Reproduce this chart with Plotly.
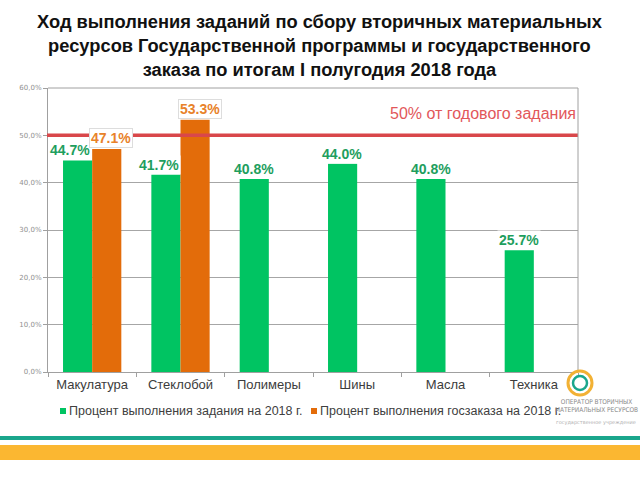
import plotly.graph_objects as go

categories = ["Макулатура", "Стеклобой", "Полимеры", "Шины", "Масла", "Техника"]
task_pct = [44.7, 41.7, 40.8, 44.0, 40.8, 25.7]
order_pct = [47.1, 53.3, None, None, None, None]
target_pct = 50.0
y_ticks = [0, 10, 20, 30, 40, 50, 60]
y_tick_labels = ["0,0%", "10,0%", "20,0%", "30,0%", "40,0%", "50,0%", "60,0%"]
series_names = ["Процент выполнения задания на 2018 г.", "Процент выполнения госзаказа на 2018 г."]

GREEN = "#00C462"
ORANGE = "#E36C0A"

W, H = 640, 480
ML, MR, MT, MB = 48, 62, 88, 108

fig = go.Figure()
fig.add_trace(go.Bar(x=categories, y=task_pct, name=series_names[0], marker_color=GREEN,
                     marker_line_width=0))
fig.add_trace(go.Bar(x=categories, y=order_pct, name=series_names[1], marker_color=ORANGE,
                     marker_line_width=0))

h_plot = H - MT - MB
w_plot = W - ML - MR
def py(ypix):
    return (H - MB - ypix) / h_plot
def px(xpix):
    return (xpix - ML) / w_plot

# 50% line
fig.add_shape(type="line", xref="paper", yref="y", x0=px(47), x1=1.0, y0=target_pct, y1=target_pct,
              line=dict(color="#D9474A", width=3.5), layer="above")

annotations = []
for i, v in enumerate(task_pct):
    shift = -22 if order_pct[i] is not None else -15
    annotations.append(dict(x=i, xshift=shift, y=v, xref="x", yref="y", yanchor="bottom", yshift=0,
                            text=f"<b>{v:.1f}%</b>", showarrow=False, bgcolor="white",
                            borderpad=1,
                            font=dict(color="#1E9E5E", size=14, family="Liberation Sans")))
for i, v in enumerate(order_pct):
    if v is not None:
        annotations.append(dict(x=i, xshift=19, y=v, xref="x", yref="y", yanchor="bottom", yshift=1,
                                text=f"<b>{v:.1f}%</b>", showarrow=False, bgcolor="white",
                                bordercolor="#DDDDDD", borderwidth=1, borderpad=1,
                                font=dict(color="#E8822A", size=14, family="Liberation Sans")))
annotations.append(dict(x=1.0, y=py(113), xref="paper", yref="paper", xanchor="right", yanchor="middle",
                        text="50% от годового задания", showarrow=False,
                        font=dict(color="#E2575A", size=16, family="Liberation Sans")))
# title
annotations.append(dict(x=px(320), y=py(9), xref="paper", yref="paper", xanchor="center", yanchor="top",
                        text="<b>Ход выполнения заданий по сбору вторичных материальных<br>ресурсов Государственной программы и государственного<br>заказа по итогам I полугодия 2018 года</b>",
                        showarrow=False,
                        font=dict(size=18.3, color="#111111", family="Liberation Sans")))
# manual legend
leg_y = 411
leg_items = [(68, GREEN, series_names[0]), (319, ORANGE, series_names[1])]
for x0, col, name in leg_items:
    fig.add_shape(type="rect", xref="paper", yref="paper", x0=px(x0 - 8), x1=px(x0 - 2),
                  y0=py(leg_y + 3), y1=py(leg_y - 3), fillcolor=col, line_width=0)
    annotations.append(dict(x=px(x0 - 1), y=py(leg_y), xref="paper", yref="paper", xanchor="left",
                            yanchor="middle", text=name, showarrow=False,
                            font=dict(size=12.5, color="#404040", family="Liberation Sans")))
# logo text
annotations.append(dict(x=px(596), y=py(406), xref="paper", yref="paper", xanchor="center", yanchor="middle",
                        text="ОПЕРАТОР ВТОРИЧНЫХ<br>МАТЕРИАЛЬНЫХ РЕСУРСОВ", showarrow=False,
                        font=dict(color="#8A8A8A", size=6.5, family="DejaVu Sans Condensed")))
annotations.append(dict(x=px(596), y=py(422), xref="paper", yref="paper", xanchor="center", yanchor="middle",
                        text="государственное учреждение", showarrow=False,
                        font=dict(color="#B0B0B0", size=5, family="DejaVu Sans")))

fig.update_layout(
    width=W, height=H,
    margin=dict(l=ML, r=MR, t=MT, b=MB, autoexpand=False),
    paper_bgcolor="white", plot_bgcolor="white",
    barmode="group", bargap=0.34, bargroupgap=0,
    showlegend=False,
    annotations=annotations,
)
fig.update_yaxes(range=[0, 60], tickvals=y_ticks, ticktext=y_tick_labels,
                 showgrid=True, gridcolor="#A6A6A6", gridwidth=1,
                 showline=True, linecolor="#A0A0A0", ticks="outside", ticklen=4, tickcolor="#A0A0A0",
                 tickfont=dict(size=7, color="#909090", family="DejaVu Sans"), zeroline=False,
                 automargin=False)
fig.update_xaxes(showline=True, linecolor="#A0A0A0",
                 tickfont=dict(size=13, color="#3C3C3C", family="Liberation Sans"),
                 ticks="outside", tickson="boundaries", ticklen=4, tickcolor="#A0A0A0", automargin=False)
fig.add_shape(type="line", xref="paper", yref="paper", x0=0.0, x1=1.0, y0=1, y1=1,
              line=dict(color="#A0A0A0", width=1))
fig.add_shape(type="line", xref="paper", yref="paper", x0=1.0, x1=1.0, y0=0, y1=1,
              line=dict(color="#A0A0A0", width=1))

# decorative bottom stripes
fig.add_shape(type="rect", xref="paper", yref="paper", x0=px(0), x1=px(640), y0=py(440), y1=py(436),
              fillcolor="#1AA68C", line_width=0)
fig.add_shape(type="rect", xref="paper", yref="paper", x0=px(0), x1=px(640), y0=py(460), y1=py(445),
              fillcolor="#FBB731", line_width=0)
# logo ring
fig.add_shape(type="circle", xref="paper", yref="paper", x0=px(568), x1=px(592), y0=py(395), y1=py(371),
              line=dict(color="#F2B134", width=3))
fig.add_shape(type="circle", xref="paper", yref="paper", x0=px(573), x1=px(587), y0=py(390), y1=py(376),
              line=dict(color="#1AA68C", width=2.5))

fig.write_html("out.html", config={"displayModeBar": False},
               post_script="document.body.style.margin='0';document.body.style.overflow='hidden';")
